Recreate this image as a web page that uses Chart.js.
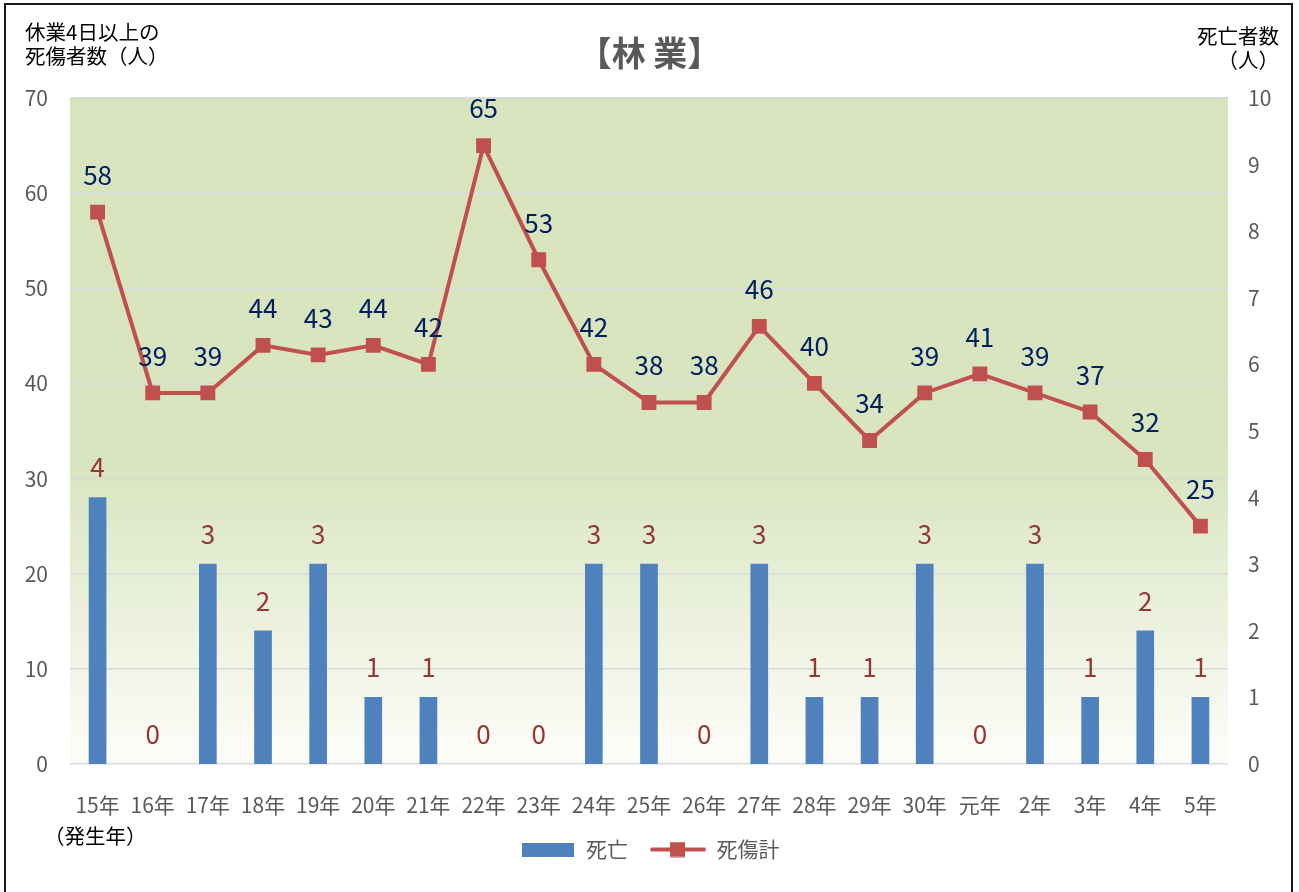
<!DOCTYPE html>
<html lang="ja">
<head>
<meta charset="utf-8">
<title>林業</title>
<script src="https://cdn.jsdelivr.net/npm/chart.js@4.4.1/dist/chart.umd.min.js"></script>
<style>
  body { margin: 0; background: #fff; font-family: "Noto Sans CJK JP", sans-serif; }
  #wrap { position: relative; width: 1299px; height: 892px; overflow: hidden; }
  #frame { position: absolute; left: 4px; top: 3px; width: 1285px; height: 1000px; border: 2px solid #1a1a1a; }
  canvas { position: absolute; left: 0; top: 0; }
  .txt { position: absolute; color: #000; font-size: 20.5px; line-height: 24px; white-space: nowrap; }
  #title { position: absolute; left: 0; width: 1299px; top: 27px; text-align: center; font-size: 34px; font-weight: bold; color: #595959; }
</style>
</head>
<body>
<div id="wrap">
  <div id="frame"></div>
  <canvas id="chart" width="1299" height="892"></canvas>
  <div id="title">【林 業】</div>
  <div class="txt" style="left:25px; top:19px;">休業4日以上の<br>死傷者数（人）</div>
  <div class="txt" style="right:20px; top:23px; text-align:right;">死亡者数<br>（人）</div>
  <div class="txt" style="left:44px; top:823px;">（発生年）</div>
</div>
<script>
// data
const years = ['15年', '16年', '17年', '18年', '19年', '20年', '21年', '22年', '23年', '24年',
               '25年', '26年', '27年', '28年', '29年', '30年', '元年', '2年', '3年', '4年', '5年'];
const deaths = [4, 0, 3, 2, 3, 1, 1, 0, 0, 3, 3, 0, 3, 1, 1, 3, 0, 3, 1, 2, 1];
const casualties = [58, 39, 39, 44, 43, 44, 42, 65, 53, 42, 38, 38, 46, 40, 34, 39, 41, 39, 37, 32, 25];
const leftMax = 70;
const rightMax = 10;

const FONT = '"Noto Sans CJK JP", sans-serif';

// plot area background
const plotBg = {
    id: 'plotBg',
    beforeDraw(chart) {
        const { ctx, chartArea: a } = chart;
        const g = ctx.createLinearGradient(0, a.top, 0, a.bottom);
        g.addColorStop(0, '#d7e4bd');
        g.addColorStop(0.55, '#d9e5c0');
        g.addColorStop(1, '#fdfdf9');
        ctx.save();
        ctx.fillStyle = g;
        ctx.fillRect(a.left, a.top, a.width, a.height);
        ctx.restore();
    }
};

// value labels over bars and points
const valueLabels = {
    id: 'valueLabels',
    afterDatasetsDraw(chart) {
        const ctx = chart.ctx;
        ctx.save();
        ctx.textAlign = 'center';
        ctx.textBaseline = 'middle';
        ctx.font = '26px ' + FONT;
        chart.getDatasetMeta(0).data.forEach((bar, i) => {
            ctx.fillStyle = '#953735';
            ctx.fillText(deaths[i], bar.x, bar.y - 30);
        });
        chart.getDatasetMeta(1).data.forEach((pt, i) => {
            ctx.fillStyle = '#002060';
            ctx.fillText(casualties[i], pt.x, pt.y - 37);
        });
        ctx.restore();
    }
};

function barSwatch() {
    const c = document.createElement('canvas');
    c.width = 52; c.height = 14;
    const g = c.getContext('2d');
    g.fillStyle = '#4f81bd';
    g.fillRect(0, 0, 52, 14);
    return c;
}

function lineSwatch() {
    const c = document.createElement('canvas');
    c.width = 58; c.height = 16;
    const g = c.getContext('2d');
    g.strokeStyle = '#c0504d';
    g.lineWidth = 4;
    g.lineCap = 'round';
    g.beginPath();
    g.moveTo(3, 8);
    g.lineTo(55, 8);
    g.stroke();
    g.fillStyle = '#c0504d';
    g.fillRect(21, 0.5, 15, 15);
    return c;
}

const swatches = [barSwatch(), lineSwatch()];

new Chart(document.getElementById('chart'), {
    data: {
        labels: years,
        datasets: [{
            type: 'bar',
            label: '死亡',
            data: deaths,
            yAxisID: 'yRight',
            backgroundColor: ctx => (ctx.raw === 0 ? 'rgba(0,0,0,0)' : '#4f81bd'),
            barThickness: 17,
            order: 1
        }, {
            type: 'line',
            label: '死傷計',
            data: casualties,
            yAxisID: 'yLeft',
            borderColor: '#c0504d',
            borderWidth: 4,
            pointStyle: 'rect',
            pointRadius: 10.5,
            pointBackgroundColor: '#c0504d',
            pointBorderWidth: 0,
            tension: 0,
            order: 0
        }]
    },
    options: {
        responsive: false,
        animation: false,
        layout: { padding: { top: 98, bottom: 22, left: 0, right: 0 } },
        plugins: {
            tooltip: { enabled: false },
            legend: {
                position: 'bottom',
                labels: {
                    usePointStyle: true,
                    pointStyleWidth: 56,
                    padding: 22,
                    color: '#595959',
                    font: { size: 21, family: FONT },
                    generateLabels(chart) {
                        return chart.data.datasets.map((ds, i) => ({
                            text: ds.label,
                            pointStyle: swatches[i],
                            fontColor: '#595959',
                            datasetIndex: i,
                            hidden: false,
                            lineWidth: 0
                        }));
                    }
                }
            }
        },
        scales: {
            x: {
                grid: { display: false },
                border: { display: false },
                ticks: { color: '#595959', font: { size: 21, family: FONT }, padding: 20, maxRotation: 0, autoSkip: false },
                afterFit(scale) { scale.height = 53; }
            },
            yLeft: {
                position: 'left',
                min: 0,
                max: leftMax,
                ticks: { stepSize: 10, color: '#595959', font: { size: 21, family: FONT }, padding: 22 },
                grid: { color: '#d9d9d9', lineWidth: 1.5, drawTicks: false },
                border: { display: false },
                afterFit(scale) { scale.width = 70; }
            },
            yRight: {
                position: 'right',
                min: 0,
                max: rightMax,
                ticks: { stepSize: 1, color: '#595959', font: { size: 21, family: FONT }, padding: 20 },
                grid: { display: false, drawTicks: false },
                border: { display: false },
                afterFit(scale) { scale.width = 71; }
            }
        }
    },
    plugins: [plotBg, valueLabels]
});
</script>
</body>
</html>
